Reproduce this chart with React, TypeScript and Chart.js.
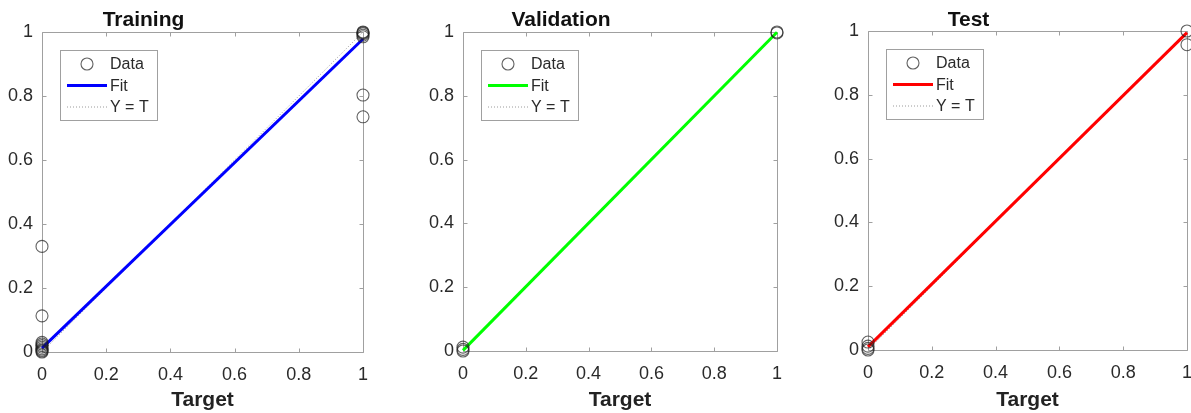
import React, { useEffect, useRef } from 'react';
import { Chart, registerables } from 'chart.js';

Chart.register(...registerables);

// ---------- data ----------
const panelTitles = ['Training', 'Validation', 'Test'];
const fitColors = ['#0000ff', '#00ff00', '#ff0000'];
const legendLabels = ['Data', 'Fit', 'Y = T'];
const tickValues = [0, 0.2, 0.4, 0.6, 0.8, 1];
const tickLabels = ['0', '0.2', '0.4', '0.6', '0.8', '1'];
const xAxisLabel = 'Target';

const trainTargets = [0, 0, 0, 0, 0, 0, 0, 0, 0, 0, 1, 1, 1, 1, 1, 1, 1];
const trainOutputs = [0, 0.003, 0.006, 0.01, 0.015, 0.02, 0.025, 0.03, 0.113, 0.33, 1, 0.998, 0.995, 0.99, 0.985, 0.803, 0.735];
const trainFit = [0.012, 0.978];

const valTargets = [0, 0, 0, 1, 1];
const valOutputs = [0, 0.005, 0.012, 1, 0.997];
const valFit = [0.002, 0.999];

const testTargets = [0, 0, 0, 0, 1, 1];
const testOutputs = [0, 0.005, 0.012, 0.025, 1, 0.957];
const testFit = [0.01, 0.995];

const fitX = [0, 1];
const identityY = [0, 1];

const panelTargets = [trainTargets, valTargets, testTargets];
const panelOutputs = [trainOutputs, valOutputs, testOutputs];
const panelFits = [trainFit, valFit, testFit];

// ---------- layout ----------
const CANVAS_H = 413;
const layouts = [
  { left: 0, width: 397, pl: 42, pr: 363, pt: 32, pb: 352 },
  { left: 397, width: 397, pl: 66, pr: 386, pt: 32, pb: 351 },
  { left: 794, width: 410, pl: 74, pr: 393, pt: 31, pb: 350 },
];

const FONT = "'Liberation Sans', Arial, Helvetica, sans-serif";
const AXIS_GRAY = '#a0a0a0';
const TEXT = '#2a2a2a';

function makeFramePlugin(idx: number) {
  return {
    id: 'frame' + idx,
    beforeDatasetsDraw(chart: any) {
      const { ctx, chartArea: a, scales } = chart;
      ctx.save();
      ctx.strokeStyle = AXIS_GRAY;
      ctx.lineWidth = 1;
      const L = Math.round(a.left) + 0.5;
      const R = Math.round(a.right) + 0.5;
      const T = Math.round(a.top) + 0.5;
      const B = Math.round(a.bottom) + 0.5;
      ctx.beginPath();
      ctx.rect(L, T, R - L, B - T);
      const tl = 4;
      tickValues.forEach((v) => {
        const x = Math.round(scales.x.getPixelForValue(v)) + 0.5;
        ctx.moveTo(x, B); ctx.lineTo(x, B - tl);
        ctx.moveTo(x, T); ctx.lineTo(x, T + tl);
        const y = Math.round(scales.y.getPixelForValue(v)) + 0.5;
        ctx.moveTo(L, y); ctx.lineTo(L + tl, y);
        ctx.moveTo(R, y); ctx.lineTo(R - tl, y);
      });
      ctx.stroke();
      ctx.restore();
    },
    afterDatasetsDraw(chart: any) {
      const { ctx, chartArea: a } = chart;
      ctx.save();
      const bx = Math.round(a.left) + 18.5;
      const by = Math.round(a.top) + 18.5;
      ctx.fillStyle = '#ffffff';
      ctx.fillRect(bx, by, 97, 70);
      ctx.strokeStyle = AXIS_GRAY;
      ctx.lineWidth = 1;
      ctx.strokeRect(bx, by, 97, 70);
      chart.data.datasets.forEach((ds: any, i: number) => {
        const y = a.top + 32 + i * 21.5;
        if (ds.showLine === false) {
          ctx.beginPath();
          ctx.strokeStyle = ds.pointBorderColor;
          ctx.lineWidth = ds.pointBorderWidth;
          ctx.arc(a.left + 45, y, ds.pointRadius, 0, Math.PI * 2);
          ctx.stroke();
        } else {
          ctx.beginPath();
          ctx.strokeStyle = ds.borderColor;
          ctx.lineWidth = ds.borderWidth;
          ctx.setLineDash(ds.borderDash || []);
          ctx.moveTo(a.left + 25, y);
          ctx.lineTo(a.left + 65, y);
          ctx.stroke();
          ctx.setLineDash([]);
        }
        ctx.fillStyle = TEXT;
        ctx.font = `16px ${FONT}`;
        ctx.textAlign = 'left';
        ctx.textBaseline = 'middle';
        ctx.fillText(ds.label, a.left + 68, y + 1);
      });
      ctx.restore();
    },
    afterDraw(chart: any) {
      const { ctx, chartArea: a } = chart;
      ctx.save();
      ctx.fillStyle = '#111';
      ctx.font = `bold 21px ${FONT}`;
      ctx.textAlign = 'center';
      ctx.textBaseline = 'alphabetic';
      ctx.fillText(panelTitles[idx], (a.left + a.right) / 2 - 59, 26);
      ctx.restore();
    },
  };
}

function Panel({ idx }: { idx: number }) {
  const ref = useRef<HTMLCanvasElement | null>(null);
  const lay = layouts[idx];
  useEffect(() => {
    if (!ref.current) return;
    const targets = panelTargets[idx];
    const outputs = panelOutputs[idx];
    const fit = panelFits[idx];
    const tickFont = { family: FONT, size: 18 };
    const chart = new Chart(ref.current, {
      type: 'scatter',
      data: {
        datasets: [
          {
            label: legendLabels[0],
            data: targets.map((t, i) => ({ x: t, y: outputs[i] })),
            showLine: false,
            pointStyle: 'circle',
            pointRadius: 6,
            pointBorderWidth: 1.1,
            pointBorderColor: 'rgba(30,30,30,0.7)',
            pointBackgroundColor: 'rgba(0,0,0,0)',
            clip: false,
          } as any,
          {
            label: legendLabels[1],
            data: fitX.map((x, i) => ({ x, y: fit[i] })),
            showLine: true,
            borderColor: fitColors[idx],
            borderWidth: 3,
            pointRadius: 0,
            clip: false,
          } as any,
          {
            label: legendLabels[2],
            data: fitX.map((x, i) => ({ x, y: identityY[i] })),
            showLine: true,
            borderColor: '#9a9a9a',
            borderWidth: 1,
            borderDash: [1, 2],
            pointRadius: 0,
            clip: false,
          } as any,
        ],
      },
      options: {
        animation: false,
        responsive: false,
        maintainAspectRatio: false,
        devicePixelRatio: 1,
        events: [],
        layout: { padding: { left: 0, top: lay.pt, right: lay.width - lay.pr, bottom: 0 } },
        plugins: {
          legend: { display: false },
          tooltip: { enabled: false },
          title: { display: false },
        },
        scales: {
          x: {
            type: 'linear',
            min: 0,
            max: 1,
            afterBuildTicks: (s: any) => { s.ticks = tickValues.map((v) => ({ value: v })); },
            afterFit: (s: any) => { s.height = CANVAS_H - lay.pb; },
            ticks: {
              autoSkip: false,
              maxRotation: 0,
              padding: 12,
              color: TEXT,
              font: tickFont,
              callback: (v: any) => tickLabels[tickValues.indexOf(Number(v))] ?? '',
            },
            grid: { display: false, drawTicks: false },
            border: { display: false },
            title: {
              display: true,
              text: xAxisLabel,
              color: '#222',
              font: { family: FONT, size: 21, weight: 'bold' },
              padding: { top: 0, bottom: 0 },
            },
          },
          y: {
            type: 'linear',
            min: 0,
            max: 1,
            afterBuildTicks: (s: any) => { s.ticks = tickValues.map((v) => ({ value: v })); },
            afterFit: (s: any) => { s.width = lay.pl; },
            ticks: {
              autoSkip: false,
              padding: 9,
              color: TEXT,
              font: tickFont,
              callback: (v: any) => tickLabels[tickValues.indexOf(Number(v))] ?? '',
            },
            grid: { display: false, drawTicks: false },
            border: { display: false },
          },
        },
      } as any,
      plugins: [makeFramePlugin(idx)],
    });
    return () => chart.destroy();
  }, [idx]);
  return (
    <canvas
      ref={ref}
      width={lay.width}
      height={CANVAS_H}
      style={{ position: 'absolute', left: lay.left, top: 0, width: lay.width, height: CANVAS_H }}
    />
  );
}

export default function App() {
  return (
    <div
      style={{
        position: 'absolute',
        left: 0,
        top: 0,
        width: 1191,
        height: CANVAS_H,
        overflow: 'hidden',
        background: '#ffffff',
      }}
    >
      {[0, 1, 2].map((i) => (
        <Panel key={i} idx={i} />
      ))}
    </div>
  );
}
